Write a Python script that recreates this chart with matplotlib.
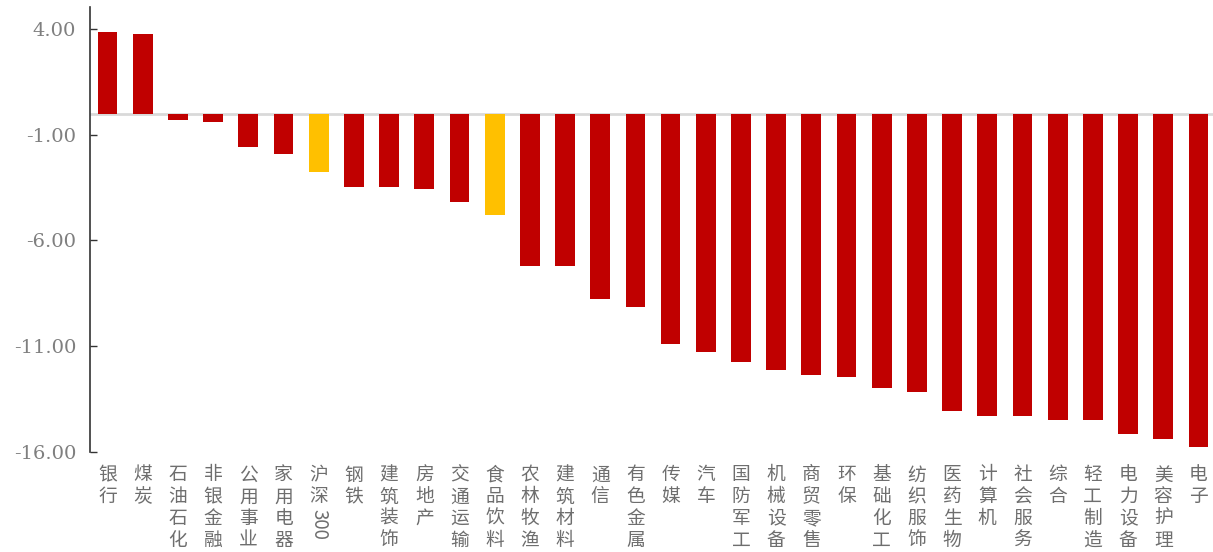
import matplotlib
matplotlib.use("Agg")
import matplotlib.pyplot as plt
from matplotlib.ticker import FormatStrFormatter
import matplotlib.transforms as mtrans

categories = ["银行", "煤炭", "石油石化", "非银金融", "公用事业", "家用电器", "沪深300", "钢铁",
              "建筑装饰", "房地产", "交通运输", "食品饮料", "农林牧渔", "建筑材料", "通信", "有色金属",
              "传媒", "汽车", "国防军工", "机械设备", "商贸零售", "环保", "基础化工", "纺织服饰",
              "医药生物", "计算机", "社会服务", "综合", "轻工制造", "电力设备", "美容护理", "电子"]
values = [3.86, 3.76, -0.30, -0.40, -1.58, -1.91, -2.76, -3.47,
          -3.47, -3.57, -4.18, -4.79, -7.20, -7.20, -8.77, -9.15,
          -10.90, -11.27, -11.74, -12.12, -12.36, -12.45, -12.97, -13.16,
          -14.06, -14.30, -14.30, -14.49, -14.49, -15.15, -15.39, -15.76]
highlight = ["沪深300", "食品饮料"]
yticks = [4, -1, -6, -11, -16]

RED = "#C00000"
YELLOW = "#FFC000"
colors = [YELLOW if c in highlight else RED for c in categories]

plt.rcParams['font.family'] = ['Noto Sans CJK SC', 'DejaVu Sans']

fig = plt.figure(figsize=(12.13, 5.52), dpi=100)
ax = fig.add_axes([90/1213, 100/552, (1216-90)/1213, 445/552])

x = list(range(len(categories)))
ax.bar(x, values, width=0.56, color=colors, zorder=2)
ax.axhline(0, color="#D9D9D9", lw=2, zorder=1)

ax.set_xlim(-0.5, len(categories) - 0.5)
ax.set_ylim(-16, 5.04)
ax.set_yticks(yticks)
ax.yaxis.set_major_formatter(FormatStrFormatter('%.2f'))
for lbl in ax.get_yticklabels():
    lbl.set_family(['DejaVu Serif'])
    lbl.set_color('#7F7F7F')
    lbl.set_fontsize(14)
ax.tick_params(axis='y', direction='in', length=5, width=1, color='#333333', pad=10)
for s in ['top', 'right', 'bottom']:
    ax.spines[s].set_visible(False)
ax.spines['left'].set_color('#333333')
ax.spines['left'].set_linewidth(1.2)

ax.set_xticks([])
trans = mtrans.blended_transform_factory(ax.transData, ax.transAxes)
LBL = dict(transform=trans, ha='center', va='top', fontsize=13.5, color='#6E6E6E')
TOP = -0.028
for i, c in enumerate(categories):
    if c == "沪深300":
        ax.text(i, TOP, "沪\n深", linespacing=1.05, **LBL)
        ax.text(i, TOP - 45/445, "300", rotation=-90, **LBL)
    else:
        ax.text(i, TOP, "\n".join(c), linespacing=1.05, **LBL)

fig.savefig("out.png", dpi=100)
